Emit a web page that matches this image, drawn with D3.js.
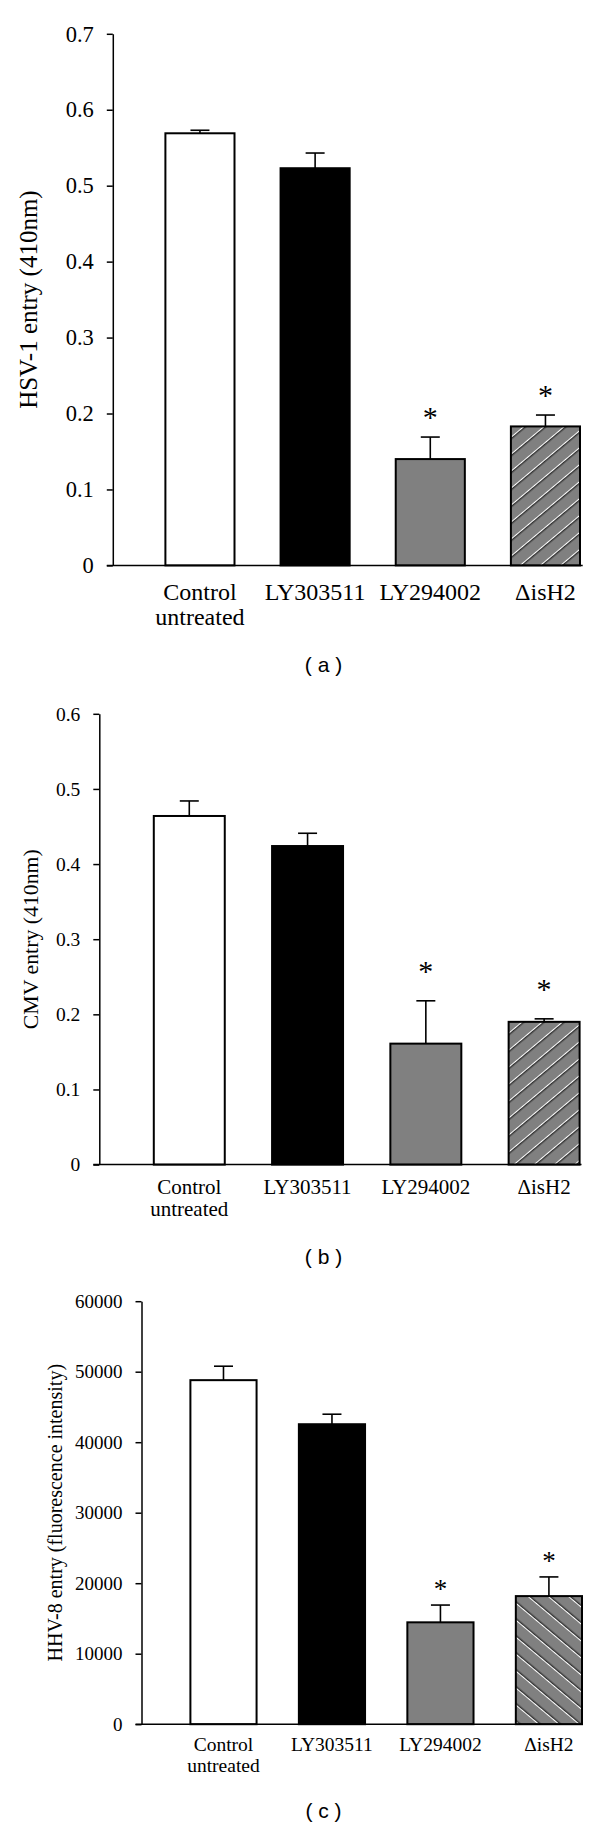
<!DOCTYPE html>
<html>
<head>
<meta charset="utf-8">
<script src="https://cdn.jsdelivr.net/npm/d3@7"></script>
<style>
  html, body { margin: 0; padding: 0; background: #fff; }
  svg { display: block; }
</style>
</head>
<body>
<svg id="chart" width="600" height="1825"></svg>
<script>
// ---------------- DATA ----------------
const categories = [["Control", "untreated"], ["LY303511"], ["LY294002"], ["\u0394isH2"]];
const significant = [false, false, true, true];

const hsvValues = [0.569, 0.523, 0.140, 0.183];
const hsvErrors = [0.004, 0.020, 0.029, 0.015];
const hsvTicks = [0, 0.1, 0.2, 0.3, 0.4, 0.5, 0.6, 0.7];

const cmvValues = [0.464, 0.424, 0.161, 0.190];
const cmvErrors = [0.020, 0.017, 0.057, 0.004];
const cmvTicks = [0, 0.1, 0.2, 0.3, 0.4, 0.5, 0.6];

const hhvValues = [48800, 42550, 14450, 18170];
const hhvErrors = [1980, 1420, 2450, 2720];
const hhvTicks = [0, 10000, 20000, 30000, 40000, 50000, 60000];

const yTitles = ["HSV-1 entry (410nm)", "CMV entry (410nm)", "HHV-8 entry (fluorescence intensity)"];
const panelTags = ["( a )", "( b )", "( c )"];

// ---------------- LAYOUT ----------------
const svg = d3.select("#chart");
const serif = "'Liberation Serif', 'Times New Roman', serif";
const sans = "'Liberation Sans', Arial, sans-serif";
const GRAY = "#808080";

const defs = svg.append("defs");
function hatch(id, angle) {
  const p = defs.append("pattern")
    .attr("id", id)
    .attr("patternUnits", "userSpaceOnUse")
    .attr("width", 13).attr("height", 13)
    .attr("patternTransform", `rotate(${angle})`);
  p.append("rect").attr("width", 13).attr("height", 13).attr("fill", GRAY);
  p.append("rect").attr("x", 0).attr("width", 1.2).attr("height", 13).attr("fill", "#ffffff");
  p.append("rect").attr("x", 1.2).attr("width", 1.1).attr("height", 13).attr("fill", "#1a1a1a");
}
hatch("hatchFwd", 50);
hatch("hatchBack", -50);

const panels = [
  {
    values: hsvValues, errors: hsvErrors, ticks: hsvTicks, max: 0.7,
    fmt: d => d === 0 ? "0" : d3.format(".1f")(d),
    axisX: 112.8, yTop: 33.8, yBottom: 565.4,
    barStart: 165.4, barEnd: 580, xEnd: 582.7, padInner: 0.4,
    tickFont: 22.5, labelFont: 24, labelBase: 599.5, labelGap: 25.7,
    titleFont: 25, titleX: 36.5,
    tagY: 672, starOffset: 24, starFont: 30,
    hatchId: "hatchFwd", title: yTitles[0], tag: panelTags[0]
  },
  {
    values: cmvValues, errors: cmvErrors, ticks: cmvTicks, max: 0.6,
    fmt: d => d === 0 ? "0" : d3.format(".1f")(d),
    axisX: 99.3, yTop: 713.8, yBottom: 1164.6,
    barStart: 153.8, barEnd: 579.6, xEnd: 581.5, padInner: 0.4,
    tickFont: 19.5, labelFont: 21, labelBase: 1193.5, labelGap: 22.3,
    titleFont: 21.8, titleX: 37.5,
    tagY: 1264, starOffset: 34, starFont: 30,
    hatchId: "hatchFwd", title: yTitles[1], tag: panelTags[1]
  },
  {
    values: hhvValues, errors: hhvErrors, ticks: hhvTicks, max: 60000,
    fmt: d3.format("d"),
    axisX: 141.5, yTop: 1301.2, yBottom: 1724.2,
    barStart: 190.4, barEnd: 582, xEnd: 582.7, padInner: 0.39,
    tickFont: 19, labelFont: 19.5, labelBase: 1751, labelGap: 21,
    titleFont: 20, titleX: 62,
    tagY: 1817.6, starOffset: 20, starFont: 27,
    hatchId: "hatchBack", title: yTitles[2], tag: panelTags[2]
  }
];

const fills = p => ["#ffffff", "#000000", GRAY, `url(#${p.hatchId})`];

panels.forEach(p => {
  const g = svg.append("g");
  const idx = d3.range(categories.length);

  const x = d3.scaleBand()
    .domain(idx)
    .range([p.barStart, p.barEnd])
    .paddingInner(p.padInner)
    .paddingOuter(0);

  const y = d3.scaleLinear()
    .domain([0, p.max])
    .range([p.yBottom, p.yTop]);

  // Bars
  g.selectAll("rect.bar")
    .data(idx)
    .join("rect")
    .attr("class", "bar")
    .attr("x", i => x(i))
    .attr("width", x.bandwidth())
    .attr("y", i => y(p.values[i]))
    .attr("height", i => y(0) - y(p.values[i]))
    .attr("fill", i => fills(p)[i])
    .attr("stroke", "#000")
    .attr("stroke-width", 2);

  // Error bars (upper only)
  const cap = 9.5;
  const eb = g.selectAll("g.err").data(idx).join("g").attr("class", "err")
    .attr("stroke", "#000").attr("stroke-width", 1.6).attr("fill", "none");
  eb.append("line")
    .attr("x1", i => x(i) + x.bandwidth() / 2)
    .attr("x2", i => x(i) + x.bandwidth() / 2)
    .attr("y1", i => y(p.values[i]))
    .attr("y2", i => y(p.values[i] + p.errors[i]));
  eb.append("line")
    .attr("x1", i => x(i) + x.bandwidth() / 2 - cap)
    .attr("x2", i => x(i) + x.bandwidth() / 2 + cap)
    .attr("y1", i => y(p.values[i] + p.errors[i]))
    .attr("y2", i => y(p.values[i] + p.errors[i]));

  // Significance stars
  g.selectAll("text.star")
    .data(idx.filter(i => significant[i]))
    .join("text")
    .attr("class", "star")
    .attr("x", i => x(i) + x.bandwidth() / 2)
    .attr("y", i => y(p.values[i] + p.errors[i]) - p.starOffset + p.starFont * 0.48)
    .attr("text-anchor", "middle")
    .attr("font-family", serif)
    .attr("font-size", p.starFont)
    .attr("fill", "#000")
    .text("*");

  // Y axis
  const yAxis = d3.axisLeft(y)
    .tickValues(p.ticks)
    .tickFormat(p.fmt)
    .tickSize(6)
    .tickSizeOuter(0)
    .tickPadding(13);
  const ya = g.append("g")
    .attr("transform", `translate(${p.axisX},0)`)
    .call(yAxis);
  ya.selectAll("path.domain").attr("stroke", "#000").attr("stroke-width", 1.5);
  ya.selectAll(".tick line").attr("stroke", "#000").attr("stroke-width", 1.5);
  ya.selectAll(".tick text")
    .attr("font-family", serif)
    .attr("font-size", p.tickFont)
    .attr("fill", "#000");

  // X axis baseline
  g.append("line")
    .attr("x1", p.axisX - 6)
    .attr("x2", p.xEnd)
    .attr("y1", y(0))
    .attr("y2", y(0))
    .attr("stroke", "#000")
    .attr("stroke-width", 1.5);

  // Category labels
  const lab = g.selectAll("text.cat")
    .data(idx)
    .join("text")
    .attr("class", "cat")
    .attr("text-anchor", "middle")
    .attr("font-family", serif)
    .attr("font-size", p.labelFont)
    .attr("fill", "#000");
  lab.selectAll("tspan")
    .data(i => categories[i].map((t, k) => ({ t, k, i })))
    .join("tspan")
    .attr("x", d => x(d.i) + x.bandwidth() / 2)
    .attr("y", d => p.labelBase + d.k * p.labelGap)
    .text(d => d.t);

  // Y title
  g.append("text")
    .attr("transform", `translate(${p.titleX},${(p.yTop + p.yBottom) / 2}) rotate(-90)`)
    .attr("text-anchor", "middle")
    .attr("font-family", serif)
    .attr("font-size", p.titleFont)
    .attr("fill", "#000")
    .text(p.title);

  // Panel tag
  g.append("text")
    .attr("x", 323.5)
    .attr("y", p.tagY)
    .attr("text-anchor", "middle")
    .attr("font-family", sans)
    .attr("font-size", 21)
    .attr("fill", "#000")
    .style("white-space", "pre")
    .text(p.tag);
});
</script>
</body>
</html>
